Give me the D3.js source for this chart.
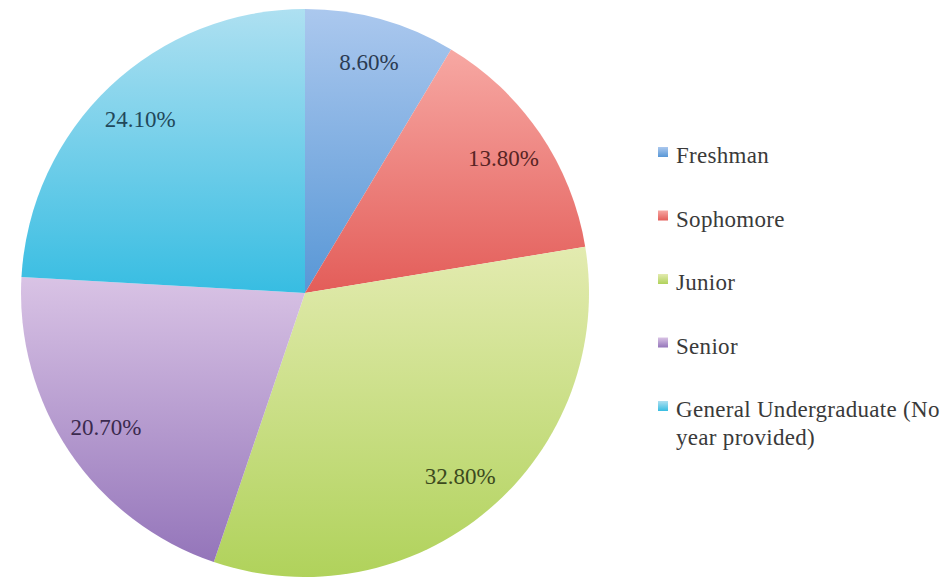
<!DOCTYPE html>
<html>
<head>
<meta charset="utf-8">
<script src="https://cdn.jsdelivr.net/npm/d3@7"></script>
<style>
  html, body { margin: 0; padding: 0; background: #ffffff; }
</style>
</head>
<body>
<svg id="chart" width="952" height="577" font-family="Liberation Serif"></svg>
<script>
// Undergraduate respondents by class year (percent of total)
const categories = ["Freshman", "Sophomore", "Junior", "Senior", "General Undergraduate (No year provided)"];
const values = [8.6, 13.8, 32.8, 20.7, 24.1];
const valueLabels = ["8.60%", "13.80%", "32.80%", "20.70%", "24.10%"];
const legendLines = [["Freshman"], ["Sophomore"], ["Junior"], ["Senior"], ["General Undergraduate (No", "year provided)"]];

// Gradient stops per slice: light at the top, deeper toward the bottom
const lightColors = ["#abc8ee", "#f7a8a3", "#e3ebb0", "#d9c3e5", "#aee0f1"];
const darkColors  = ["#5897d6", "#e35d59", "#b0d25b", "#9475ba", "#37bde2"];
const labelColors = ["#2b3b52", "#572424", "#3c4a1e", "#3b2a4e", "#22485a"];

const svg = d3.select("#chart");
const cx = 305, cy = 293, radius = 284, labelRadius = 240;

const defs = svg.append("defs");
categories.forEach((c, i) => {
  const lg = defs.append("linearGradient")
    .attr("id", "grad" + i)
    .attr("x1", 0).attr("y1", 0).attr("x2", 0).attr("y2", 1);
  lg.append("stop").attr("offset", "0%").attr("stop-color", lightColors[i]);
  lg.append("stop").attr("offset", "100%").attr("stop-color", darkColors[i]);
});

const data = categories.map((c, i) => ({ category: c, value: values[i], label: valueLabels[i], idx: i }));
const arcs = d3.pie().sort(null).value(d => d.value)(data);

const arc = d3.arc().innerRadius(0).outerRadius(radius);
const labelArc = d3.arc().innerRadius(labelRadius).outerRadius(labelRadius);

// Slices
svg.append("g")
  .attr("transform", `translate(${cx},${cy})`)
  .selectAll("path")
  .data(arcs)
  .join("path")
  .attr("d", arc)
  .attr("fill", d => `url(#grad${d.data.idx})`);

// Percentage labels inside each slice
arcs.forEach(d => {
  const [lx, ly] = labelArc.centroid(d);
  svg.append("text")
    .attr("x", cx + lx)
    .attr("y", cy + ly + 8)
    .attr("text-anchor", "middle")
    .attr("font-family", "Liberation Serif")
    .attr("font-size", 23)
    .attr("fill", labelColors[d.data.idx])
    .text(d.data.label);
});

// Legend
const legendY = d3.scalePoint().domain(categories).range([163, 417]);
data.forEach(d => {
  const y = legendY(d.category);
  svg.append("rect")
    .attr("x", 658).attr("y", y - 16)
    .attr("width", 10).attr("height", 10)
    .attr("fill", `url(#grad${d.idx})`);
  legendLines[d.idx].forEach((line, j) => {
    svg.append("text")
      .attr("x", 676)
      .attr("y", y + j * 28)
      .attr("font-family", "Liberation Serif")
      .attr("font-size", 23)
      .attr("letter-spacing", 0.3)
      .attr("fill", "#3a3a3a")
      .text(line);
  });
});
</script>
</body>
</html>
